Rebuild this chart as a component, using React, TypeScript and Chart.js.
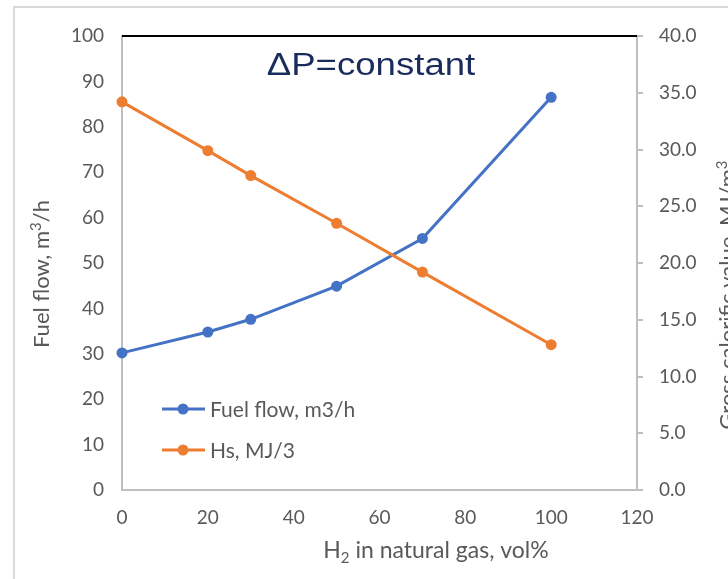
import React, { useEffect, useRef } from "react";
import { Chart, registerables } from "chart.js";

Chart.register(...registerables);

// H2 share in the natural gas blend (vol%)
const h2Percent = [0, 20, 30, 50, 70, 100];
// Fuel flow at constant pressure drop (m3/h), left axis
const fuelFlow = [30.2, 34.8, 37.6, 44.9, 55.4, 86.5];
// Gross calorific value Hs (MJ/m3), right axis
const grossCalorific = [34.2, 29.9, 27.7, 23.5, 19.2, 12.8];

const seriesNames = ["Fuel flow, m3/h", "Hs, MJ/3"];
const chartTitle = "\u0394P=constant";

const xRange = [0, 120];
const xStep = 20;
const leftRange = [0, 100];
const leftStep = 10;
const rightRange = [0, 40];
const rightStep = 5;

const BLUE = "#4472c4";
const ORANGE = "#ed7d31";
const LABEL = "#595959";
const AXIS = "#bfbfbf";
const TICK_FONT = "Lato";

type Seg = { text: string; shift?: number; small?: boolean };

// Draws a run of text segments (with sub/superscripts) centred on the
// anchor point; the anchor sits on the baseline after rotation.
function drawRich(
  ctx: CanvasRenderingContext2D,
  segs: Seg[],
  size: number,
  px: number,
  py: number,
  rotation: number
) {
  ctx.save();
  ctx.translate(px, py);
  ctx.rotate(rotation);
  ctx.textAlign = "left";
  ctx.textBaseline = "alphabetic";
  ctx.fillStyle = LABEL;
  const fontFor = (s: Seg) => `${s.small ? Math.round(size * 0.66) : size}px ${TICK_FONT}`;
  const widths = segs.map((s) => {
    ctx.font = fontFor(s);
    return ctx.measureText(s.text).width;
  });
  const total = widths.reduce((a, b) => a + b, 0);
  let x = -total / 2;
  segs.forEach((s, i) => {
    ctx.font = fontFor(s);
    ctx.fillText(s.text, x, s.shift || 0);
    x += widths[i];
  });
  ctx.restore();
}

const decorations = {
  id: "decorations",
  beforeDraw(chart: any) {
    const ctx = chart.ctx as CanvasRenderingContext2D;
    ctx.save();
    ctx.fillStyle = "#ffffff";
    ctx.fillRect(0, 0, chart.width, chart.height);
    // outer frame of the chart box
    ctx.strokeStyle = "#d9d9d9";
    ctx.lineWidth = 2;
    ctx.strokeRect(14, 7, chart.width + 40, chart.height + 40);
    ctx.restore();
  },
  afterDraw(chart: any) {
    const ctx = chart.ctx as CanvasRenderingContext2D;
    const area = chart.chartArea;

    // black top edge of the plot area
    ctx.save();
    ctx.strokeStyle = "#000000";
    ctx.lineWidth = 2;
    ctx.beginPath();
    ctx.moveTo(area.left, area.top);
    ctx.lineTo(area.right, area.top);
    ctx.stroke();
    ctx.restore();

    // title inside the plot
    ctx.save();
    ctx.fillStyle = "#1a2c5b";
    ctx.font = "31px 'Liberation Sans', Arial, sans-serif";
    ctx.textAlign = "center";
    ctx.textBaseline = "alphabetic";
    ctx.translate(371, 75);
    ctx.scale(1.18, 1);
    ctx.fillText(chartTitle, 0, 0);
    ctx.restore();

    // axis titles
    drawRich(
      ctx,
      [{ text: "Fuel flow, m" }, { text: "3", small: true, shift: -8 }, { text: "/h" }],
      22,
      49,
      274,
      -Math.PI / 2
    );
    drawRich(
      ctx,
      [{ text: "H" }, { text: "2", small: true, shift: 5 }, { text: " in natural gas, vol%" }],
      23,
      436,
      558,
      0
    );
    drawRich(
      ctx,
      [{ text: "Gross calorific value, MJ/m" }, { text: "3", small: true, shift: -8 }],
      22,
      735,
      295,
      -Math.PI / 2
    );

    // legend inside the plot
    const entries = [
      { name: seriesNames[0], color: BLUE, y: 409 },
      { name: seriesNames[1], color: ORANGE, y: 450 },
    ];
    entries.forEach((e) => {
      ctx.save();
      ctx.strokeStyle = e.color;
      ctx.lineWidth = 3;
      ctx.beginPath();
      ctx.moveTo(162, e.y);
      ctx.lineTo(205, e.y);
      ctx.stroke();
      ctx.fillStyle = e.color;
      ctx.beginPath();
      ctx.arc(183, e.y, 5.5, 0, Math.PI * 2);
      ctx.fill();
      ctx.fillStyle = LABEL;
      ctx.font = `21px ${TICK_FONT}`;
      ctx.textAlign = "left";
      ctx.textBaseline = "middle";
      ctx.fillText(e.name, 210, e.y + 1);
      ctx.restore();
    });
  },
};

export default function App() {
  const canvasRef = useRef<HTMLCanvasElement | null>(null);

  useEffect(() => {
    const canvas = canvasRef.current;
    if (!canvas) return;

    const chart = new Chart(canvas, {
      type: "line",
      data: {
        datasets: [
          {
            label: seriesNames[0],
            data: h2Percent.map((x, i) => ({ x, y: fuelFlow[i] })),
            borderColor: BLUE,
            backgroundColor: BLUE,
            pointBackgroundColor: BLUE,
            pointBorderColor: BLUE,
            pointRadius: 5.5,
            pointBorderWidth: 0,
            borderWidth: 3,
            tension: 0,
            yAxisID: "y",
            clip: false as any,
            order: 1,
          },
          {
            label: seriesNames[1],
            data: h2Percent.map((x, i) => ({ x, y: grossCalorific[i] })),
            borderColor: ORANGE,
            backgroundColor: ORANGE,
            pointBackgroundColor: ORANGE,
            pointBorderColor: ORANGE,
            pointRadius: 5.5,
            pointBorderWidth: 0,
            borderWidth: 3,
            tension: 0,
            yAxisID: "y1",
            clip: false as any,
            order: 0,
          },
        ],
      },
      options: {
        responsive: false,
        animation: false,
        devicePixelRatio: 1,
        layout: { padding: { top: 36, left: 0, right: 0, bottom: 0 } },
        plugins: {
          legend: { display: false },
          tooltip: { enabled: false },
          title: { display: false },
        },
        scales: {
          x: {
            type: "linear",
            min: xRange[0],
            max: xRange[1],
            ticks: {
              stepSize: xStep,
              color: LABEL,
              font: { family: TICK_FONT, size: 19 },
              padding: 16,
            },
            grid: { display: true, drawOnChartArea: false, drawTicks: false, color: AXIS },
            border: { display: true, color: AXIS, width: 2 },
            afterFit: (s: any) => {
              s.height = 89;
            },
          },
          y: {
            type: "linear",
            position: "left",
            min: leftRange[0],
            max: leftRange[1],
            ticks: {
              stepSize: leftStep,
              color: LABEL,
              font: { family: TICK_FONT, size: 19 },
              padding: 18,
            },
            grid: { display: true, drawOnChartArea: false, drawTicks: false, color: AXIS },
            border: { display: true, color: AXIS, width: 2 },
            afterFit: (s: any) => {
              s.width = 122;
            },
          },
          y1: {
            type: "linear",
            position: "right",
            min: rightRange[0],
            max: rightRange[1],
            ticks: {
              stepSize: rightStep,
              color: LABEL,
              font: { family: TICK_FONT, size: 19 },
              padding: 16,
              callback: (v: any) => Number(v).toFixed(1),
            },
            grid: {
              display: true,
              drawOnChartArea: false,
              drawTicks: true,
              tickLength: 6,
              color: AXIS,
              lineWidth: 2,
            },
            border: { display: true, color: AXIS, width: 2 },
            afterFit: (s: any) => {
              s.width = 91;
            },
          },
        },
      },
      plugins: [decorations],
    });

    return () => chart.destroy();
  }, []);

  return (
    <div style={{ position: "fixed", left: 0, top: 0, width: 728, height: 579, background: "#fff" }}>
      <canvas ref={canvasRef} width={728} height={579} style={{ width: 728, height: 579, display: "block" }} />
    </div>
  );
}
